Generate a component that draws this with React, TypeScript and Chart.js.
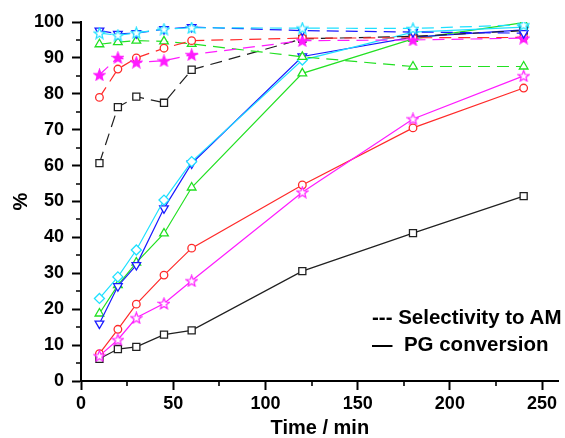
import React, { useEffect, useRef } from "react";
import { Chart, registerables } from "chart.js";

Chart.register(...registerables);

const times = [10, 20, 30, 45, 60, 120, 180, 240];

// PG conversion (solid lines)
const convBlack = [6.2, 8.9, 9.5, 12.9, 14.1, 30.6, 41.2, 51.5];
const convRed = [7.6, 14.4, 21.4, 29.5, 37.0, 54.6, 70.5, 81.6];
const convMagenta = [7.0, 11.5, 17.6, 21.6, 27.9, 52.6, 73.0, 85.0];
const convGreen = [18.8, 26.7, 33.0, 41.1, 53.9, 85.7, 95.3, 99.8];
const convBlue = [16.0, 26.4, 32.3, 48.1, 60.6, 90.4, 95.8, 97.8];
const convCyan = [23.0, 29.0, 36.5, 50.4, 61.1, 89.4, 97.2, 98.6];

// Selectivity to AM (dashed lines)
const selBlack = [60.7, 76.3, 79.2, 77.5, 86.7, 95.3, 96.0, 97.6];
const selRed = [79.0, 86.9, 90.0, 92.7, 94.8, 95.5, 95.6, 95.7];
const selMagenta = [85.3, 90.1, 88.8, 89.2, 90.9, 94.8, 95.0, 95.5];
const selGreen = [93.8, 94.4, 94.8, 94.6, 93.9, 90.3, 87.6, 87.6];
const selBlue = [97.6, 96.7, 96.9, 98.0, 98.6, 97.6, 97.2, 96.9];
const selCyan = [96.9, 96.3, 97.0, 98.0, 98.4, 98.3, 98.2, 99.2];

const xTicks = [0, 50, 100, 150, 200, 250];
const yTicks = [0, 10, 20, 30, 40, 50, 60, 70, 80, 90, 100];
const xMinor = [25, 75, 125, 175, 225];
const yMinor = [5, 15, 25, 35, 45, 55, 65, 75, 85, 95];

const legendLines = ["--- Selectivity to AM", "\u2014  PG conversion"];

const BLACK = "#202020";
const RED = "#ff2a2a";
const MAGENTA = "#ff1cff";
const GREEN = "#22e022";
const BLUE = "#1a1aff";
const CYAN = "#1ee0ff";

function makeStar(color: string, filled: boolean) {
  const c = document.createElement("canvas");
  c.width = 13;
  c.height = 13;
  const ctx = c.getContext("2d")!;
  const cx = 6.5, cy = 7, R = 5.8, r = 2.5;
  ctx.beginPath();
  for (let i = 0; i < 10; i++) {
    const ang = -Math.PI / 2 + (i * Math.PI) / 5;
    const rad = i % 2 === 0 ? R : r;
    const px = cx + Math.cos(ang) * rad;
    const py = cy + Math.sin(ang) * rad;
    if (i === 0) ctx.moveTo(px, py);
    else ctx.lineTo(px, py);
  }
  ctx.closePath();
  ctx.fillStyle = filled ? color : "#ffffff";
  ctx.fill();
  ctx.lineWidth = 1.2;
  ctx.strokeStyle = color;
  ctx.stroke();
  return c;
}

const toPts = (ys: number[]) => times.map((t, i) => ({ x: t, y: ys[i] }));

export default function App() {
  const ref = useRef<HTMLCanvasElement | null>(null);

  useEffect(() => {
    if (!ref.current) return;
    const starMagHollow = makeStar(MAGENTA, false);
    const starMagFilled = makeStar(MAGENTA, true);
    const starCyan = makeStar(CYAN, false);

    const mk = (
      label: string,
      ys: number[],
      color: string,
      dashed: boolean,
      style: any,
      radius: number,
      rotation = 0
    ) => ({
      label,
      data: toPts(ys),
      borderColor: color,
      backgroundColor: color,
      borderWidth: 1.2,
      borderDash: dashed ? [12, 7] : [],
      pointStyle: style,
      pointRadius: radius,
      pointRotation: rotation,
      pointBorderColor: color,
      pointBackgroundColor: "#ffffff",
      pointBorderWidth: 1.3,
      tension: 0,
      fill: false,
    });

    const minorTicks = {
      id: "minorTicks",
      afterDraw(chart: any) {
        const { ctx, chartArea, scales } = chart;
        ctx.save();
        ctx.strokeStyle = "#000";
        ctx.lineWidth = 1.6;
        ctx.beginPath();
        xMinor.forEach((v) => {
          const px = Math.round(scales.x.getPixelForValue(v));
          ctx.moveTo(px, chartArea.bottom);
          ctx.lineTo(px, chartArea.bottom + 5);
        });
        yMinor.forEach((v) => {
          const py = Math.round(scales.y.getPixelForValue(v));
          ctx.moveTo(chartArea.left - 5, py);
          ctx.lineTo(chartArea.left, py);
        });
        ctx.stroke();
        ctx.restore();
      },
    };

    const tickFont = { family: "'Liberation Sans', Arial, sans-serif", size: 18, weight: "bold" as const, lineHeight: 1.2 };
    const titleFont = { family: "'Liberation Sans', Arial, sans-serif", size: 20, weight: "bold" as const, lineHeight: 1 };

    // first dataset is drawn on top
    const chart = new Chart(ref.current, {
      type: "line",
      data: {
        datasets: [
          mk("Sel cyan", selCyan, CYAN, true, starCyan, 5),
          mk("Sel blue", selBlue, BLUE, true, "triangle", 5, 180),
          mk("Sel magenta", selMagenta, MAGENTA, true, starMagFilled, 5),
          mk("Sel red", selRed, RED, true, "circle", 3.8),
          mk("Sel green", selGreen, GREEN, true, "triangle", 5),
          mk("Sel black", selBlack, BLACK, true, "rect", 5),
          mk("Conv cyan", convCyan, CYAN, false, "rectRot", 5),
          mk("Conv blue", convBlue, BLUE, false, "triangle", 5, 180),
          mk("Conv green", convGreen, GREEN, false, "triangle", 5),
          mk("Conv magenta", convMagenta, MAGENTA, false, starMagHollow, 5),
          mk("Conv red", convRed, RED, false, "circle", 3.8),
          mk("Conv black", convBlack, BLACK, false, "rect", 5),
        ],
      },
      options: {
        animation: false,
        responsive: false,
        devicePixelRatio: 1,
        layout: { padding: { top: 22, right: 0, left: 0, bottom: 0 } },
        plugins: { legend: { display: false }, tooltip: { enabled: false } },
        scales: {
          x: {
            type: "linear",
            min: 0,
            max: 259,
            afterBuildTicks: (s: any) => {
              s.ticks = xTicks.map((v) => ({ value: v }));
            },
            afterFit: (s: any) => {
              s.height = 57;
              s.paddingLeft = 0;
              s.paddingRight = 0;
            },
            ticks: { color: "#000", font: tickFont, padding: 3, maxRotation: 0 },
            grid: { drawOnChartArea: false, drawTicks: true, tickLength: 9, tickWidth: 2, tickColor: "#000" },
            border: { display: true, color: "#000", width: 2 },
            title: { display: true, text: "Time / min", color: "#000", font: titleFont, padding: { top: 0, bottom: 0 } },
          },
          y: {
            type: "linear",
            min: 0,
            max: 100,
            afterBuildTicks: (s: any) => {
              s.ticks = yTicks.map((v) => ({ value: v }));
            },
            afterFit: (s: any) => {
              s.width = 81;
            },
            ticks: { color: "#000", font: tickFont, padding: 8 },
            grid: { drawOnChartArea: false, drawTicks: true, tickLength: 9, tickWidth: 2, tickColor: "#000" },
            border: { display: true, color: "#000", width: 2 },
            title: { display: true, text: "%", color: "#000", font: titleFont, padding: { top: 11, bottom: 0 } },
          },
        },
      },
      plugins: [minorTicks],
    });
    return () => chart.destroy();
  }, []);

  const legendStyle: React.CSSProperties = {
    position: "absolute",
    left: 372,
    fontFamily: "'Liberation Sans', Arial, sans-serif",
    fontWeight: "bold",
    fontSize: 20.5,
    lineHeight: "20px",
    color: "#000",
    whiteSpace: "pre",
  };

  return (
    <div style={{ position: "fixed", left: 0, top: 0, width: 565, height: 438, background: "#fff" }}>
      <canvas ref={ref} width={565} height={438} style={{ width: 565, height: 438, display: "block" }} />
      <div style={{ ...legendStyle, top: 307 }}>{legendLines[0]}</div>
      <div style={{ ...legendStyle, top: 334 }}>{legendLines[1]}</div>
    </div>
  );
}
